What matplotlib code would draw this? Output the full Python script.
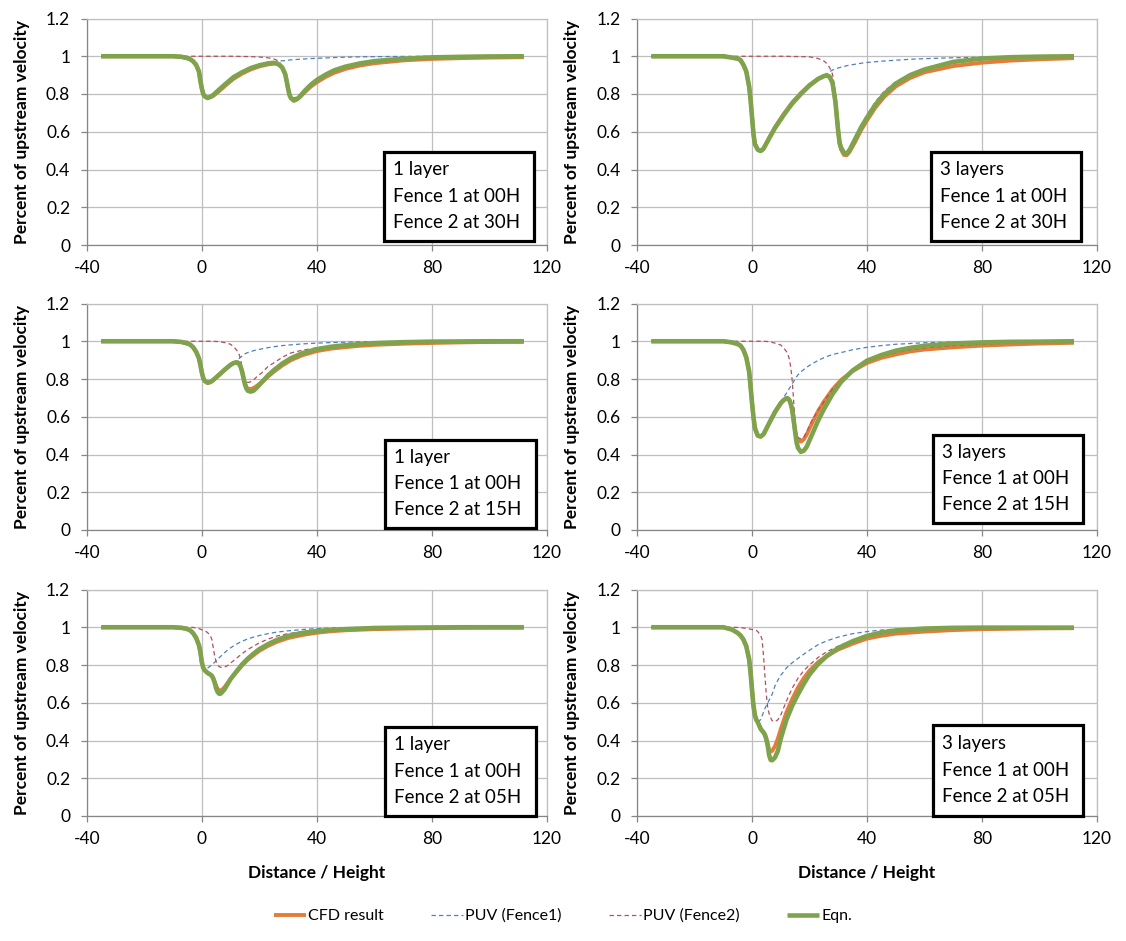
import matplotlib
matplotlib.use("Agg")
import matplotlib.pyplot as plt
from matplotlib.patches import Rectangle
from matplotlib.ticker import FuncFormatter

plt.rcParams['font.family'] = ['Lato', 'DejaVu Sans']
plt.rcParams['axes.unicode_minus'] = False

# ---------------- data ----------------
X_30 = [-35, -10, -7, -5, -4, -3, -2, -1, -0.5, 0,
        0.5, 1, 2, 3, 4, 6, 8, 11, 14, 17,
        20, 23, 25, 26, 27, 28, 29, 29.5, 30, 30.5,
        31, 32, 33, 34, 36, 38, 40, 43, 46, 50,
        55, 60, 70, 80, 90, 100, 112]

X_15 = [-35, -10, -7, -5, -4, -3, -2, -1, -0.5, 0,
        0.5, 1, 2, 3, 4, 6, 8, 10, 11, 12,
        12.5, 13, 13.5, 14, 14.5, 15, 15.5, 16, 17, 18,
        19, 21, 23, 25, 28, 31, 35, 40, 45, 50,
        55, 60, 70, 80, 90, 100, 112]

X_05 = [-35, -10, -7, -5, -4, -3, -2, -1, -0.5, 0,
        0.5, 1, 1.5, 2, 3, 3.5, 4, 4.5, 5, 5.5,
        6, 6.5, 7, 8, 9, 10, 12, 14, 16, 18,
        20, 23, 26, 30, 35, 40, 45, 50, 60, 70,
        80, 90, 100, 112]

# Panel 1: 1 layer, fence 2 at 30H
p1_cfd = [1.0, 1.0, 0.997, 0.99, 0.984, 0.973, 0.955, 0.92, 0.87, 0.83,
          0.80, 0.788, 0.779, 0.783, 0.79, 0.815, 0.842, 0.88, 0.908, 0.93,
          0.946, 0.957, 0.961, 0.96, 0.953, 0.938, 0.905, 0.87, 0.83, 0.797,
          0.78, 0.768, 0.772, 0.782, 0.812, 0.84, 0.862, 0.89, 0.912, 0.933,
          0.951, 0.963, 0.978, 0.986, 0.99, 0.993, 0.995]
p1_puv1 = [1.0, 1.0, 0.997, 0.99, 0.984, 0.973, 0.955, 0.92, 0.87, 0.83,
           0.80, 0.788, 0.779, 0.785, 0.795, 0.823, 0.85, 0.889, 0.915, 0.937,
           0.952, 0.963, 0.968, 0.971, 0.974, 0.976, 0.977, 0.978, 0.979, 0.98,
           0.981, 0.982, 0.983, 0.984, 0.986, 0.988, 0.989, 0.991, 0.993, 0.995,
           0.997, 0.998, 0.999, 1.0, 1.0, 1.0, 1.0]
p1_puv2 = [1.0, 1.0, 1.0, 1.0, 1.0, 1.0, 1.0, 1.0, 1.0, 1.0,
           1.0, 1.0, 1.0, 1.0, 1.0, 1.0, 1.0, 1.0, 0.999, 0.998,
           0.996, 0.992, 0.986, 0.98, 0.968, 0.948, 0.912, 0.875, 0.835, 0.80,
           0.786, 0.778, 0.784, 0.795, 0.823, 0.85, 0.875, 0.902, 0.926, 0.948,
           0.963, 0.974, 0.986, 0.993, 0.997, 0.999, 1.0]
p1_eqn = [1.0, 1.0, 0.997, 0.99, 0.984, 0.973, 0.955, 0.92, 0.87, 0.83,
          0.80, 0.788, 0.779, 0.785, 0.795, 0.823, 0.85, 0.889, 0.915, 0.937,
          0.952, 0.962, 0.965, 0.963, 0.955, 0.94, 0.906, 0.87, 0.83, 0.795,
          0.778, 0.765, 0.772, 0.785, 0.82, 0.85, 0.874, 0.902, 0.925, 0.945,
          0.962, 0.974, 0.987, 0.994, 0.997, 0.999, 1.0]

# Panel 2: 3 layers, fence 2 at 30H
p2_cfd = [1.0, 1.0, 0.993, 0.987, 0.98, 0.955, 0.92, 0.84, 0.77, 0.68,
          0.59, 0.535, 0.505, 0.498, 0.51, 0.568, 0.624, 0.693, 0.755, 0.805,
          0.848, 0.88, 0.894, 0.897, 0.89, 0.858, 0.76, 0.68, 0.60, 0.535,
          0.505, 0.477, 0.476, 0.495, 0.55, 0.61, 0.66, 0.73, 0.785, 0.84,
          0.885, 0.915, 0.948, 0.966, 0.977, 0.984, 0.99]
p2_puv1 = [1.0, 1.0, 0.993, 0.987, 0.98, 0.955, 0.92, 0.84, 0.77, 0.68,
           0.59, 0.535, 0.505, 0.498, 0.51, 0.566, 0.62, 0.688, 0.75, 0.80,
           0.845, 0.88, 0.898, 0.908, 0.918, 0.927, 0.932, 0.935, 0.938, 0.94,
           0.942, 0.946, 0.95, 0.953, 0.958, 0.963, 0.967, 0.971, 0.975, 0.979,
           0.984, 0.987, 0.992, 0.995, 0.998, 0.999, 1.0]
p2_puv2 = [1.0, 1.0, 1.0, 1.0, 1.0, 1.0, 1.0, 1.0, 1.0, 1.0,
           1.0, 1.0, 1.0, 1.0, 1.0, 1.0, 1.0, 1.0, 0.999, 0.998,
           0.997, 0.988, 0.975, 0.962, 0.94, 0.905, 0.81, 0.73, 0.645, 0.57,
           0.53, 0.5, 0.49, 0.515, 0.575, 0.635, 0.69, 0.76, 0.815, 0.865,
           0.905, 0.935, 0.972, 0.988, 0.995, 0.998, 1.0]
p2_eqn = [1.0, 1.0, 0.993, 0.987, 0.98, 0.955, 0.92, 0.84, 0.77, 0.68,
          0.59, 0.535, 0.505, 0.498, 0.51, 0.566, 0.62, 0.688, 0.75, 0.80,
          0.845, 0.88, 0.895, 0.899, 0.892, 0.86, 0.76, 0.68, 0.60, 0.54,
          0.515, 0.487, 0.485, 0.505, 0.565, 0.625, 0.675, 0.745, 0.80, 0.855,
          0.90, 0.93, 0.97, 0.988, 0.995, 0.998, 1.0]

# Panel 3: 1 layer, fence 2 at 15H
p3_cfd = [1.0, 1.0, 0.996, 0.988, 0.982, 0.968, 0.945, 0.91, 0.875, 0.835,
          0.805, 0.79, 0.78, 0.784, 0.795, 0.822, 0.85, 0.875, 0.884, 0.888,
          0.887, 0.88, 0.866, 0.842, 0.808, 0.777, 0.758, 0.748, 0.747, 0.752,
          0.762, 0.785, 0.812, 0.838, 0.872, 0.90, 0.926, 0.948, 0.961, 0.969,
          0.976, 0.981, 0.987, 0.991, 0.994, 0.996, 0.997]
p3_puv1 = [1.0, 1.0, 0.996, 0.988, 0.982, 0.968, 0.945, 0.91, 0.875, 0.835,
           0.805, 0.79, 0.78, 0.784, 0.795, 0.822, 0.85, 0.875, 0.886, 0.897,
           0.903, 0.909, 0.915, 0.922, 0.928, 0.933, 0.937, 0.94, 0.945, 0.95,
           0.954, 0.96, 0.966, 0.971, 0.977, 0.981, 0.986, 0.99, 0.993, 0.995,
           0.997, 0.998, 0.999, 1.0, 1.0, 1.0, 1.0]
p3_puv2 = [1.0, 1.0, 1.0, 1.0, 1.0, 1.0, 1.0, 1.0, 1.0, 1.0,
           1.0, 1.0, 1.0, 1.0, 1.0, 0.998, 0.993, 0.984, 0.972, 0.955,
           0.945, 0.93, 0.905, 0.86, 0.82, 0.795, 0.785, 0.782, 0.785, 0.795,
           0.81, 0.835, 0.866, 0.885, 0.915, 0.938, 0.953, 0.965, 0.975, 0.982,
           0.988, 0.992, 0.996, 0.998, 1.0, 1.0, 1.0]
p3_eqn = [1.0, 1.0, 0.996, 0.988, 0.982, 0.968, 0.945, 0.91, 0.875, 0.835,
          0.805, 0.79, 0.78, 0.784, 0.795, 0.822, 0.85, 0.875, 0.884, 0.888,
          0.887, 0.88, 0.865, 0.84, 0.805, 0.772, 0.75, 0.738, 0.733, 0.738,
          0.752, 0.785, 0.818, 0.846, 0.882, 0.91, 0.937, 0.958, 0.971, 0.979,
          0.985, 0.99, 0.995, 0.998, 0.999, 1.0, 1.0]

# Panel 4: 3 layers, fence 2 at 15H
p4_cfd = [1.0, 1.0, 0.994, 0.985, 0.977, 0.955, 0.915, 0.84, 0.76, 0.675,
          0.60, 0.54, 0.50, 0.495, 0.507, 0.567, 0.625, 0.672, 0.688, 0.698,
          0.697, 0.688, 0.668, 0.635, 0.58, 0.525, 0.49, 0.475, 0.468, 0.48,
          0.505, 0.57, 0.63, 0.68, 0.745, 0.795, 0.842, 0.885, 0.912, 0.93,
          0.946, 0.956, 0.968, 0.977, 0.983, 0.988, 0.992]
p4_puv1 = [1.0, 1.0, 0.994, 0.985, 0.977, 0.955, 0.915, 0.84, 0.76, 0.675,
           0.60, 0.54, 0.50, 0.495, 0.507, 0.567, 0.625, 0.675, 0.703, 0.725,
           0.737, 0.75, 0.762, 0.775, 0.787, 0.80, 0.812, 0.822, 0.838, 0.85,
           0.862, 0.882, 0.898, 0.913, 0.93, 0.94, 0.955, 0.968, 0.977, 0.984,
           0.988, 0.992, 0.996, 0.998, 1.0, 1.0, 1.0]
p4_puv2 = [1.0, 1.0, 1.0, 1.0, 1.0, 1.0, 1.0, 1.0, 1.0, 1.0,
           1.0, 1.0, 1.0, 1.0, 1.0, 0.998, 0.99, 0.98, 0.965, 0.945,
           0.93, 0.905, 0.86, 0.79, 0.68, 0.57, 0.515, 0.49, 0.482, 0.49,
           0.52, 0.585, 0.635, 0.68, 0.745, 0.795, 0.845, 0.89, 0.92, 0.94,
           0.955, 0.965, 0.977, 0.985, 0.99, 0.993, 0.995]
p4_eqn = [1.0, 1.0, 0.994, 0.985, 0.977, 0.955, 0.915, 0.84, 0.76, 0.675,
          0.60, 0.54, 0.50, 0.495, 0.507, 0.567, 0.625, 0.672, 0.688, 0.698,
          0.697, 0.688, 0.668, 0.635, 0.58, 0.52, 0.465, 0.435, 0.414, 0.42,
          0.44, 0.51, 0.58, 0.64, 0.72, 0.785, 0.845, 0.897, 0.927, 0.95,
          0.965, 0.976, 0.988, 0.994, 0.997, 0.998, 1.0]

# Panel 5: 1 layer, fence 2 at 05H
p5_cfd = [1.0, 1.0, 0.997, 0.99, 0.983, 0.968, 0.945, 0.905, 0.87, 0.815,
          0.785, 0.772, 0.765, 0.758, 0.749, 0.743, 0.728, 0.708, 0.69, 0.672,
          0.665, 0.664, 0.668, 0.684, 0.705, 0.727, 0.762, 0.797, 0.828, 0.852,
          0.875, 0.901, 0.922, 0.943, 0.959, 0.971, 0.979, 0.984, 0.99, 0.993,
          0.995, 0.997, 0.998, 0.998]
p5_puv1 = [1.0, 1.0, 0.997, 0.99, 0.983, 0.968, 0.945, 0.905, 0.87, 0.815,
           0.785, 0.778, 0.78, 0.783, 0.795, 0.802, 0.808, 0.815, 0.822, 0.83,
           0.838, 0.845, 0.852, 0.866, 0.879, 0.891, 0.91, 0.926, 0.938, 0.948,
           0.956, 0.966, 0.974, 0.981, 0.988, 0.993, 0.996, 0.998, 1.0, 1.0,
           1.0, 1.0, 1.0, 1.0]
p5_puv2 = [1.0, 1.0, 1.0, 1.0, 1.0, 0.999, 0.996, 0.993, 0.99, 0.987,
           0.985, 0.982, 0.977, 0.972, 0.955, 0.935, 0.89, 0.845, 0.818, 0.80,
           0.792, 0.788, 0.787, 0.79, 0.797, 0.81, 0.835, 0.86, 0.882, 0.90,
           0.917, 0.937, 0.953, 0.966, 0.977, 0.984, 0.99, 0.993, 0.997, 0.999,
           1.0, 1.0, 1.0, 1.0]
p5_eqn = [1.0, 1.0, 0.997, 0.99, 0.983, 0.968, 0.945, 0.905, 0.87, 0.815,
          0.785, 0.772, 0.765, 0.758, 0.749, 0.743, 0.728, 0.705, 0.675, 0.657,
          0.648, 0.648, 0.655, 0.673, 0.70, 0.725, 0.765, 0.803, 0.834, 0.86,
          0.884, 0.91, 0.932, 0.954, 0.97, 0.98, 0.986, 0.99, 0.996, 0.998,
          0.999, 1.0, 1.0, 1.0]

# Panel 6: 3 layers, fence 2 at 05H
p6_cfd = [1.0, 1.0, 0.988, 0.97, 0.957, 0.935, 0.90, 0.83, 0.76, 0.67,
          0.585, 0.535, 0.51, 0.497, 0.462, 0.452, 0.443, 0.43, 0.41, 0.38,
          0.345, 0.342, 0.345, 0.37, 0.41, 0.46, 0.55, 0.62, 0.68, 0.73,
          0.77, 0.815, 0.848, 0.882, 0.913, 0.94, 0.955, 0.966, 0.977, 0.985,
          0.99, 0.992, 0.994, 0.995]
p6_puv1 = [1.0, 1.0, 0.988, 0.97, 0.957, 0.935, 0.90, 0.83, 0.76, 0.67,
           0.585, 0.535, 0.51, 0.50, 0.51, 0.53, 0.55, 0.57, 0.585, 0.60,
           0.615, 0.63, 0.645, 0.69, 0.72, 0.745, 0.785, 0.812, 0.835, 0.857,
           0.878, 0.908, 0.928, 0.948, 0.966, 0.977, 0.985, 0.99, 0.995, 0.998,
           1.0, 1.0, 1.0, 1.0]
p6_puv2 = [1.0, 1.0, 1.0, 0.999, 0.998, 0.996, 0.994, 0.991, 0.99, 0.988,
           0.987, 0.986, 0.983, 0.977, 0.957, 0.935, 0.85, 0.74, 0.64, 0.57,
           0.54, 0.52, 0.505, 0.50, 0.51, 0.535, 0.61, 0.678, 0.73, 0.77,
           0.80, 0.84, 0.87, 0.90, 0.93, 0.95, 0.965, 0.975, 0.986, 0.992,
           0.995, 0.997, 0.999, 1.0]
p6_eqn = [1.0, 1.0, 0.988, 0.97, 0.957, 0.935, 0.90, 0.83, 0.76, 0.67,
          0.585, 0.535, 0.51, 0.497, 0.462, 0.452, 0.443, 0.43, 0.405, 0.37,
          0.32, 0.297, 0.295, 0.31, 0.345, 0.41, 0.51, 0.585, 0.645, 0.70,
          0.75, 0.805, 0.847, 0.89, 0.926, 0.954, 0.972, 0.983, 0.993, 0.997,
          0.998, 0.998, 0.998, 0.998]

box_texts = [
    ["1 layer", "Fence 1 at 00H", "Fence 2 at 30H"],
    ["3 layers", "Fence 1 at 00H", "Fence 2 at 30H"],
    ["1 layer", "Fence 1 at 00H", "Fence 2 at 15H"],
    ["3 layers", "Fence 1 at 00H", "Fence 2 at 15H"],
    ["1 layer", "Fence 1 at 00H", "Fence 2 at 05H"],
    ["3 layers", "Fence 1 at 00H", "Fence 2 at 05H"],
]
series_names = ["CFD result", "PUV (Fence1)", "PUV (Fence2)", "Eqn."]
x_ticks = [-40, 0, 40, 80, 120]
y_ticks = [0, 0.2, 0.4, 0.6, 0.8, 1.0, 1.2]
y_label = "Percent of upstream velocity"
x_label = "Distance / Height"

# ---------------- figure ----------------
W, H = 1126, 941
fig = plt.figure(figsize=(W / 100, H / 100), dpi=100)

col_left = [86.8, 637.0]
row_bottom = [245.0, 530.0, 816.0]
ax_w, ax_h = 460.0, 226.5

panels = [
    (X_30, p1_cfd, p1_puv1, p1_puv2, p1_eqn),
    (X_30, p2_cfd, p2_puv1, p2_puv2, p2_eqn),
    (X_15, p3_cfd, p3_puv1, p3_puv2, p3_eqn),
    (X_15, p4_cfd, p4_puv1, p4_puv2, p4_eqn),
    (X_05, p5_cfd, p5_puv1, p5_puv2, p5_eqn),
    (X_05, p6_cfd, p6_puv1, p6_puv2, p6_eqn),
]
# box extents in axes fraction (x0, y0, x1, y1)
box_pos = [
    (0.646, 0.018, 0.972, 0.41),
    (0.639, 0.018, 0.966, 0.41),
    (0.648, 0.008, 0.976, 0.397),
    (0.643, 0.03, 0.970, 0.42),
    (0.648, 0.0, 0.976, 0.392),
    (0.643, 0.0, 0.970, 0.40),
]

C_ORANGE = '#E47C3A'
C_BLUE = '#4F81BD'
C_RED = '#B0505A'
C_GREEN = '#7FA34C'
GRID = '#BFBFBF'
AXC = '#868686'

fmt = FuncFormatter(lambda v, p: '{:g}'.format(round(v, 2)))
handles = None
for i, (xs, cfd, puv1, puv2, eqn) in enumerate(panels):
    r, c = divmod(i, 2)
    left = col_left[c] / W
    bottom = 1 - row_bottom[r] / H
    ax = fig.add_axes([left, bottom, ax_w / W, ax_h / H])
    l1, = ax.plot(xs, cfd, color=C_ORANGE, lw=2.8, solid_capstyle='butt', zorder=3)
    l2, = ax.plot(xs, puv1, color=C_BLUE, lw=0.9, dashes=(3.5, 2.5), zorder=4)
    l3, = ax.plot(xs, puv2, color=C_RED, lw=0.9, dashes=(3.5, 2.5), zorder=4)
    l4, = ax.plot(xs, eqn, color=C_GREEN, lw=3.3, solid_capstyle='butt', zorder=5)
    if handles is None:
        handles = [l1, l2, l3, l4]
    ax.set_xlim(-40, 120)
    ax.set_ylim(0, 1.2)
    ax.set_xticks(x_ticks)
    ax.set_yticks(y_ticks)
    ax.yaxis.set_major_formatter(fmt)
    ax.grid(True, color=GRID, lw=0.9, zorder=0)
    ax.set_axisbelow(True)
    for s in ['top', 'right']:
        ax.spines[s].set_color(GRID)
        ax.spines[s].set_linewidth(0.9)
    for s in ['left', 'bottom']:
        ax.spines[s].set_color(AXC)
        ax.spines[s].set_linewidth(0.9)
    ax.tick_params(axis='both', length=4, width=0.9, color=AXC, labelsize=12.5,
                   labelcolor='black')
    ax.tick_params(axis='x', pad=7)
    ax.tick_params(axis='y', pad=8)
    ax.set_ylabel(y_label, fontsize=12.5, fontweight='bold')
    ax.yaxis.set_label_coords(-0.123, 0.5)
    if r == 2:
        ax.set_xlabel(x_label, fontsize=12.5, fontweight='bold')
        ax.xaxis.set_label_coords(0.5, -0.215)
    x0, y0, x1, y1 = box_pos[i]
    ax.add_patch(Rectangle((x0, y0), x1 - x0, y1 - y0, transform=ax.transAxes,
                           facecolor='white', edgecolor='black', lw=2.3,
                           zorder=10, clip_on=False))
    for k, t in enumerate(box_texts[i]):
        ax.text(x0 + 0.02, y1 - (y1 - y0) * (0.2 + 0.295 * k), t,
                transform=ax.transAxes, fontsize=13.5, va='center', ha='left',
                zorder=11)

fig.legend(handles, series_names, loc='center', bbox_to_anchor=(0.5, 1 - 916 / H),
           ncol=4, frameon=False, fontsize=11.5, handlelength=2.0,
           handletextpad=0.1, columnspacing=3.0)

fig.savefig('out.png', dpi=100)
